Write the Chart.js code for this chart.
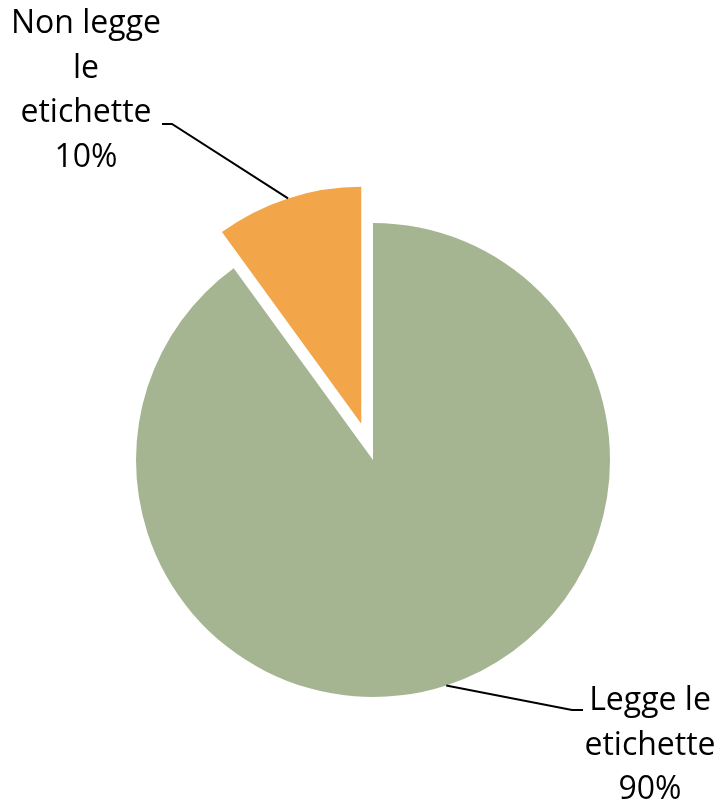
<!DOCTYPE html>
<html>
<head>
<meta charset="utf-8">
<script src="https://cdn.jsdelivr.net/npm/chart.js@4.4.1/dist/chart.umd.min.js"></script>
<style>
  html, body { margin: 0; padding: 0; background: #fff; }
  #wrap { width: 721px; height: 804px; position: relative; }
</style>
</head>
<body>
<div id="wrap"><canvas id="torta"></canvas></div>
<script>
// --- dati ---
const categorie = ['Legge le etichette', 'Non legge le etichette'];
const percentuali = [90, 10];
const righeEtichetta = [
    ['Legge le', 'etichette', '90%'],
    ['Non legge', 'le', 'etichette', '10%']
];
const colori = ['#A5B592', '#F2A649'];
// spostamento della fetta verso l'esterno, in pixel
const stacco = [0, 38];

// posizione del gomito della linea guida e del testo, rispetto al centro della torta
const posEtichette = [
    { gomito: [199, 250], fine: [210, 250], testo: [277, 250] },
    { gomito: [-201, -336], fine: [-211, -336], testo: [-287, -427] }
];

const FONT = '32px "Open Sans", sans-serif';
const INTERLINEA = 44.5;

function spostamento(arco, i) {
    const p = arco.getProps(['startAngle', 'endAngle']);
    const mezzo = (p.startAngle + p.endAngle) / 2;
    return [Math.cos(mezzo) * stacco[i], Math.sin(mezzo) * stacco[i]];
}

// sposta le fette staccate traslando il loro disegno
const pluginStacco = {
    id: 'staccoFette',
    afterUpdate(chart) {
        chart.getDatasetMeta(0).data.forEach((arco, i) => {
            if (!stacco[i] || arco._staccata) return;
            const disegna = arco.draw;
            arco.draw = function (ctx, area) {
                const [dx, dy] = spostamento(this, i);
                ctx.save();
                ctx.translate(dx, dy);
                disegna.call(this, ctx, area);
                ctx.restore();
            };
            arco._staccata = true;
        });
    }
};

// disegna linee guida e testi delle etichette
const pluginEtichette = {
    id: 'etichetteTorta',
    afterDatasetsDraw(chart) {
        const ctx = chart.ctx;
        const archi = chart.getDatasetMeta(0).data;
        ctx.save();
        ctx.strokeStyle = '#000';
        ctx.lineWidth = 2;
        ctx.fillStyle = '#000';
        ctx.font = FONT;
        ctx.textAlign = 'center';
        ctx.textBaseline = 'alphabetic';
        archi.forEach((arco, i) => {
            const p = arco.getProps(['x', 'y', 'startAngle', 'endAngle', 'outerRadius']);
            const [dx, dy] = spostamento(arco, i);
            const mezzo = (p.startAngle + p.endAngle) / 2;
            const sx = p.x + dx + Math.cos(mezzo) * p.outerRadius;
            const sy = p.y + dy + Math.sin(mezzo) * p.outerRadius;
            const pos = posEtichette[i];
            ctx.beginPath();
            ctx.moveTo(sx, sy);
            ctx.lineTo(p.x + pos.gomito[0], p.y + pos.gomito[1]);
            ctx.lineTo(p.x + pos.fine[0], p.y + pos.fine[1]);
            ctx.stroke();

            righeEtichetta[i].forEach((riga, k) => {
                ctx.fillText(riga, p.x + pos.testo[0], p.y + pos.testo[1] + k * INTERLINEA);
            });
        });
        ctx.restore();
    }
};

new Chart(document.getElementById('torta').getContext('2d'), {
    type: 'pie',
    data: {
        labels: categorie,
        datasets: [{
            data: percentuali,
            backgroundColor: colori,
            borderWidth: 0
        }]
    },
    options: {
        responsive: true,
        maintainAspectRatio: false,
        animation: false,
        radius: 237,
        layout: { padding: { left: 25, right: 0, top: 116, bottom: 0 } },
        events: [],
        plugins: {
            legend: { display: false },
            tooltip: { enabled: false }
        }
    },
    plugins: [pluginStacco, pluginEtichette]
});
</script>
</body>
</html>
